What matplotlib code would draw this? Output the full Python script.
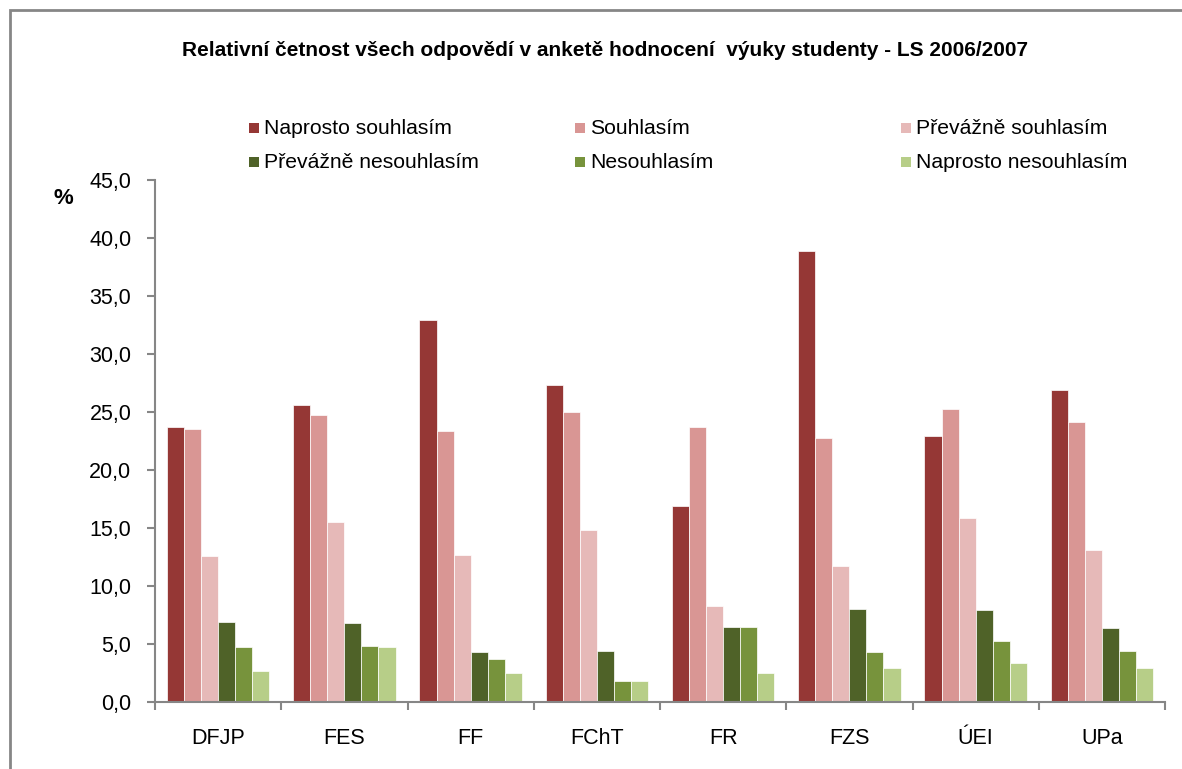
import matplotlib
matplotlib.use("Agg")
import matplotlib.pyplot as plt
import matplotlib.patches as mpatches
import numpy as np

plt.rcParams["font.family"] = ["Liberation Sans", "DejaVu Sans"]

faculties = ["DFJP", "FES", "FF", "FChT", "FR", "FZS", "ÚEI", "UPa"]
series_names = ["Naprosto souhlasím", "Souhlasím", "Převážně souhlasím",
                "Převážně nesouhlasím", "Nesouhlasím", "Naprosto nesouhlasím"]
naprosto_souhlasim = [23.7, 25.6, 32.9, 27.3, 16.9, 38.9, 22.9, 26.9]
souhlasim = [23.5, 24.7, 23.4, 25.0, 23.7, 22.8, 25.3, 24.1]
prevazne_souhlasim = [12.6, 15.5, 12.7, 14.8, 8.3, 11.7, 15.9, 13.1]
prevazne_nesouhlasim = [6.9, 6.8, 4.3, 4.4, 6.5, 8.0, 7.9, 6.4]
nesouhlasim = [4.7, 4.8, 3.7, 1.8, 6.5, 4.3, 5.3, 4.4]
naprosto_nesouhlasim = [2.7, 4.7, 2.5, 1.8, 2.5, 2.9, 3.4, 2.9]
yticks = [0, 5, 10, 15, 20, 25, 30, 35, 40, 45]

series = [naprosto_souhlasim, souhlasim, prevazne_souhlasim,
          prevazne_nesouhlasim, nesouhlasim, naprosto_nesouhlasim]
colors = ["#953735", "#D99694", "#E6B9B8", "#4F6228", "#77933C", "#B7CE88"]
AXIS = "#868686"

W, H = 1182, 769
fig = plt.figure(figsize=(W / 100, H / 100), dpi=100)
fig.patch.set_facecolor("white")

# outer chart frame (cut by the image on right/bottom)
fig.patches.append(mpatches.Rectangle((10 / W, -0.05), 1.1, 1 - 10 / H + 0.05,
                                      transform=fig.transFigure, fill=False,
                                      edgecolor=AXIS, linewidth=2))

ax = fig.add_axes([155 / W, 1 - 702 / H, 1010 / W, 522 / H])
x = np.arange(len(faculties))
bw = 0.135
for i, (vals, c) in enumerate(zip(series, colors)):
    ax.bar(x + (i - 2.5) * bw, vals, bw, color=c, edgecolor="white", linewidth=0.5)

ax.set_xlim(-0.5, len(faculties) - 0.5)
ax.set_ylim(0, 45)
ax.set_yticks(yticks)
ax.set_yticklabels([f"{v:.1f}".replace(".", ",") for v in yticks], fontsize=15.5)
ax.set_xticks(x)
ax.set_xticklabels(faculties, fontsize=15.5)
ax.set_xticks(np.arange(len(faculties) + 1) - 0.5, minor=True)
ax.tick_params(axis="x", which="major", length=0, pad=18.5)
ax.tick_params(axis="x", which="minor", length=6, width=1.5, color=AXIS, direction="out")
ax.tick_params(axis="y", length=6, width=1.5, color=AXIS, pad=11)
for s in ["top", "right"]:
    ax.spines[s].set_visible(False)
for s in ["left", "bottom"]:
    ax.spines[s].set_color(AXIS)
    ax.spines[s].set_linewidth(1.5)

fig.text(605 / W, 1 - 51 / H, "Relativní četnost všech odpovědí v anketě hodnocení  výuky studenty - LS 2006/2007",
         ha="center", va="center", fontsize=15, fontweight="bold")
fig.text(63 / W, 1 - 198 / H, "%", ha="center", va="center", fontsize=16, fontweight="bold")

# legend, 3 columns x 2 rows
col_x = [249, 575, 901]
row_y = [128, 162]
for k, (name, c) in enumerate(zip(series_names, colors)):
    cx = col_x[k % 3]
    cy = row_y[k // 3]
    fig.patches.append(mpatches.Rectangle((cx / W, 1 - (cy + 5) / H), 10 / W, 10 / H,
                                          transform=fig.transFigure, facecolor=c,
                                          edgecolor="none"))
    fig.text((cx + 15) / W, 1 - cy / H, name, ha="left", va="center", fontsize=15.2)

fig.savefig("out.png", dpi=100, facecolor="white")
